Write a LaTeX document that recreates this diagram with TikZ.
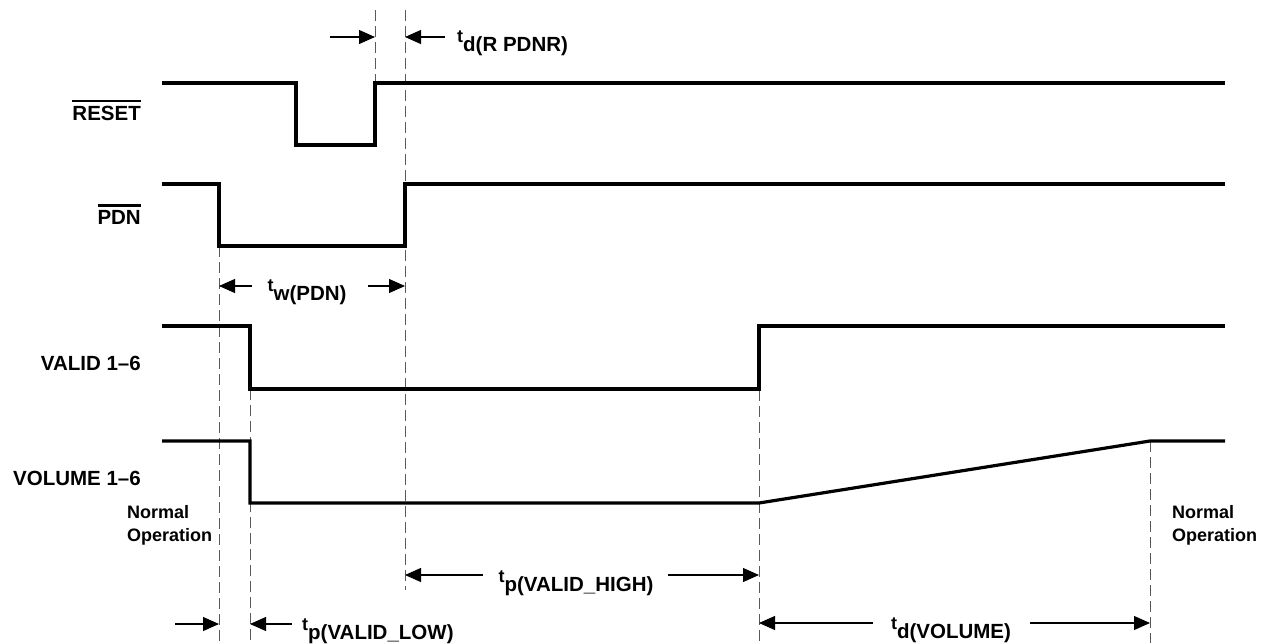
\documentclass[tikz,border=0pt]{standalone}
\usepackage{fontspec}
\setmainfont{Liberation Sans}
\usetikzlibrary{arrows.meta}
\newcommand{\tsym}[2]{\raisebox{8.5pt}{\fontsize{18}{18}\selectfont t}#2}
\newcommand{\ovbar}[1]{\vbox{\hrule height 2.8pt\kern 3.2pt\hbox{#1}}}
\begin{document}
\begin{tikzpicture}[x=1pt,y=-1pt,
  sig/.style={line width=3.2pt, line join=miter},
  guide/.style={line width=1pt, black!65, dash pattern=on 11pt off 5pt},
  dim/.style={line width=1.1pt, -{Triangle[length=16pt,width=14pt]}},
  lbl/.style={font=\fontsize{20.5}{24}\selectfont\bfseries, inner sep=0pt},
  note/.style={font=\fontsize{18}{23}\selectfont\bfseries, align=left, inner sep=0pt},
]
\useasboundingbox (0,0) rectangle (1272,643);

% ---------- dashed guide lines ----------
\draw[guide] (375,10) -- (375,83);
\draw[guide] (405,10) -- (405,590);
\draw[guide] (219,246) -- (219,643);
\draw[guide] (250,389) -- (250,643);
\draw[guide] (759,326) -- (759,643);
\draw[guide] (1150,441) -- (1150,643);

% ---------- waveforms ----------
\draw[sig] (162,83) -- (296,83) -- (296,145) -- (375,145) -- (375,83) -- (1225,83);
\draw[sig] (162,184) -- (219,184) -- (219,246) -- (405,246) -- (405,184) -- (1225,184);
\draw[sig] (162,326) -- (250,326) -- (250,389) -- (759,389) -- (759,326) -- (1225,326);
\draw[sig] (162,441) -- (250,441) -- (250,503) -- (759,503) -- (1150,441) -- (1225,441);

% ---------- signal labels ----------
\node[lbl, anchor=base east] (lreset) at (141,120) {\ovbar{RESET}};
\node[lbl, anchor=base east] (lpdn) at (141,224) {\ovbar{PDN}};
\node[lbl, anchor=base east] (lvalid) at (141,370) {VALID 1–6};
\node[lbl, anchor=base east] (lvol) at (141,485) {VOLUME 1–6};

\node[note, anchor=north west] (nL) at (127,505) {Normal\\Operation};
\node[note, anchor=north west] (nR) at (1172,505) {Normal\\Operation};

% ---------- timing labels and dimension arrows ----------
% td(R PDNR)
\node[lbl, anchor=base west] (tdr) at (457,51) {\tsym{t}{d(R PDNR)}};
\coordinate (a1s) at (330,37); \coordinate (a1e) at (375,37);
\coordinate (a2s) at (445,37); \coordinate (a2e) at (405,37);
\draw[dim] (a1s) -- (a1e);
\draw[dim] (a2s) -- (a2e);

% tw(PDN)
\node[lbl, anchor=base] (tw) at (307,300) {\tsym{t}{w(PDN)}};
\coordinate (b1s) at (252,286); \coordinate (b1e) at (219,286);
\coordinate (b2s) at (368,286); \coordinate (b2e) at (405,286);
\draw[dim] (b1s) -- (b1e);
\draw[dim] (b2s) -- (b2e);

% tp(VALID_HIGH)
\node[lbl, anchor=base] (tvh) at (576,591) {\tsym{t}{p(VALID\_HIGH)}};
\coordinate (c1s) at (483,575); \coordinate (c1e) at (405,575);
\coordinate (c2s) at (668,575); \coordinate (c2e) at (759,575);
\draw[dim] (c1s) -- (c1e);
\draw[dim] (c2s) -- (c2e);

% tp(VALID_LOW)
\node[lbl, anchor=base west] (tvl) at (302,639) {\tsym{t}{p(VALID\_LOW)}};
\coordinate (d1s) at (175,624); \coordinate (d1e) at (219,624);
\coordinate (d2s) at (292,624); \coordinate (d2e) at (250,624);
\draw[dim] (d1s) -- (d1e);
\draw[dim] (d2s) -- (d2e);

% td(VOLUME)
\node[lbl, anchor=base] (tdv) at (951,638) {\tsym{t}{d(VOLUME)}};
\coordinate (e1s) at (873,623); \coordinate (e1e) at (759,623);
\coordinate (e2s) at (1030,623); \coordinate (e2e) at (1150,623);
\draw[dim] (e1s) -- (e1e);
\draw[dim] (e2s) -- (e2e);
\end{tikzpicture}
\end{document}
